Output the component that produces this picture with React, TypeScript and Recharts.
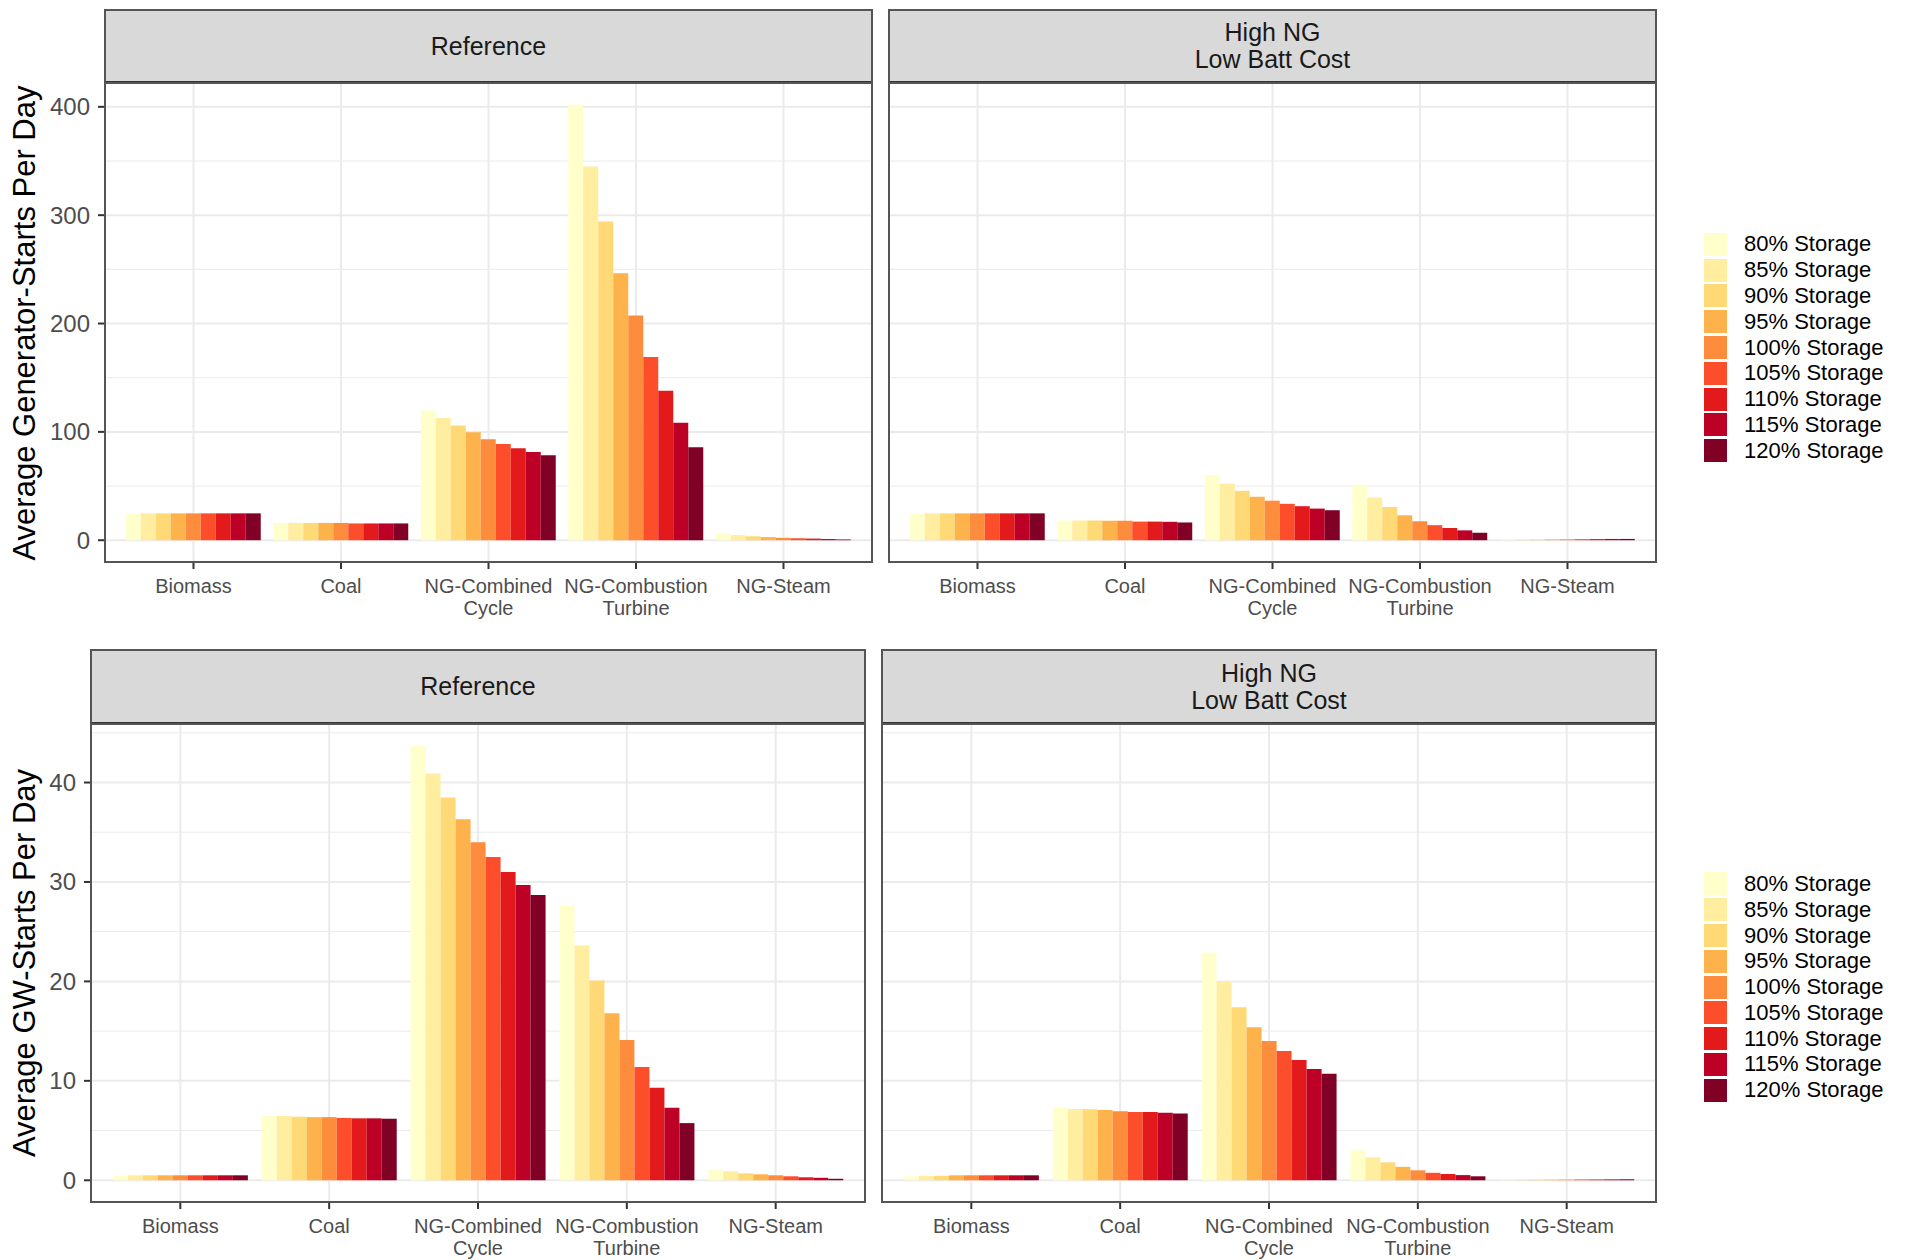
import React from 'react';
import { BarChart, Bar, XAxis, YAxis, CartesianGrid } from 'recharts';

const categories = ['Biomass', 'Coal', 'NG-Combined\nCycle', 'NG-Combustion\nTurbine', 'NG-Steam'];
const storageLevels = [
  '80% Storage', '85% Storage', '90% Storage', '95% Storage', '100% Storage',
  '105% Storage', '110% Storage', '115% Storage', '120% Storage',
];
// YlOrRd, 9 classes
const COLORS = ['#FFFFCC', '#FFEDA0', '#FED976', '#FEB24C', '#FD8D3C', '#FC4E2A', '#E31A1C', '#BD0026', '#800026'];

// rows follow `categories`, columns follow `storageLevels`
const genStartsReference = [
  [24.8, 24.8, 24.8, 24.8, 24.8, 24.8, 24.8, 24.8, 24.8],
  [16.0, 16.0, 16.0, 16.0, 16.0, 15.5, 15.5, 15.5, 15.5],
  [119.7, 112.8, 105.8, 99.6, 93.1, 88.7, 85.0, 81.4, 78.5],
  [401.9, 344.9, 294.2, 246.4, 207.3, 169.0, 138.0, 108.4, 85.8],
  [6.6, 4.7, 3.6, 2.9, 2.2, 1.8, 1.5, 1.1, 0.7],
];
const genStartsHighNG = [
  [24.8, 24.8, 24.8, 24.8, 24.8, 24.8, 24.8, 24.8, 24.8],
  [18.2, 18.2, 18.2, 18.0, 18.0, 17.2, 17.2, 17.0, 16.4],
  [60.2, 52.2, 45.6, 40.1, 36.5, 33.6, 31.4, 29.2, 27.7],
  [51.1, 39.4, 30.7, 23.0, 17.5, 13.9, 11.3, 9.1, 6.9],
  [0.6, 0.6, 0.7, 0.8, 0.9, 1.0, 1.1, 1.2, 1.2],
];
const gwStartsReference = [
  [0.45, 0.5, 0.5, 0.5, 0.5, 0.5, 0.5, 0.5, 0.5],
  [6.47, 6.47, 6.39, 6.35, 6.35, 6.27, 6.23, 6.23, 6.19],
  [43.7, 40.9, 38.5, 36.3, 34.0, 32.5, 31.0, 29.7, 28.7],
  [27.6, 23.6, 20.1, 16.8, 14.1, 11.4, 9.3, 7.3, 5.75],
  [1.1, 0.9, 0.7, 0.6, 0.5, 0.4, 0.3, 0.25, 0.15],
];
const gwStartsHighNG = [
  [0.4, 0.45, 0.45, 0.5, 0.5, 0.5, 0.5, 0.5, 0.5],
  [7.34, 7.18, 7.14, 7.06, 6.94, 6.87, 6.87, 6.79, 6.71],
  [22.9, 20.0, 17.4, 15.4, 14.0, 13.0, 12.1, 11.2, 10.7],
  [3.0, 2.3, 1.8, 1.35, 1.0, 0.75, 0.63, 0.52, 0.4],
  [0.05, 0.05, 0.06, 0.06, 0.07, 0.08, 0.08, 0.09, 0.1],
];

const genTicks = [0, 100, 200, 300, 400];
const genMinorTicks = [50, 150, 250, 350];
const gwTicks = [0, 10, 20, 30, 40];
const gwMinorTicks = [5, 15, 25, 35, 45];

const toRows = (vals: number[][]) =>
  categories.map((category, i) => {
    const row: any = { category };
    vals[i].forEach((v, j) => (row[`s${j}`] = v));
    return row;
  });

// ggplot-style 5% expansion on both ends
const expandDomain = (...panels: number[][][]) => {
  const max = Math.max(...panels.flat(2));
  return [-0.05 * max, 1.05 * max];
};

const CategoryTick = (props: any) => {
  const { x, y, payload } = props;
  const lines = String(payload.value).split('\n');
  return (
    <text x={x} y={y} textAnchor="middle" fill="#4D4D4D" fontSize={20}>
      {lines.map((l, i) => (
        <tspan key={i} x={x} dy={i === 0 ? 22 : 22}>
          {l}
        </tspan>
      ))}
    </text>
  );
};

interface PanelProps {
  left: number;
  right: number;
  top: number;
  bottom: number;
  stripTop: number;
  title: string[];
  values: number[][];
  domain: number[];
  ticks: number[];
  minorTicks: number[];
  showY: boolean;
}

const Panel = ({ left, right, top, bottom, stripTop, title, values, domain, ticks, minorTicks, showY }: PanelProps) => {
  const plotW = right - left;
  const plotH = bottom - top;
  const yw = showY ? 70 : 0;
  const unit = plotW / 5.2;
  const pad = unit * 0.1;
  const barSize = Math.round(unit * 0.1);
  const rows = toRows(values);
  return (
    <>
      <div
        style={{
          position: 'absolute',
          left: left - 1,
          top: stripTop - 1,
          width: plotW + 2,
          height: top - stripTop + 2,
          boxSizing: 'border-box',
          background: '#D9D9D9',
          border: '2px solid #555',
          borderBottom: '3px solid #333',
          display: 'flex',
          alignItems: 'center',
          justifyContent: 'center',
          flexDirection: 'column',
          fontSize: 25,
          lineHeight: '27px',
          color: '#1A1A1A',
        }}
      >
        {title.map((t) => (
          <div key={t}>{t}</div>
        ))}
      </div>
      <div style={{ position: 'absolute', left: left - yw, top }}>
        <BarChart
          width={plotW + yw}
          height={plotH + 60}
          data={rows}
          margin={{ top: 0, right: 0, bottom: 0, left: 0 }}
          barGap={0}
          barSize={barSize}
        >
          <CartesianGrid horizontalValues={minorTicks} vertical={false} stroke="#EBEBEB" strokeWidth={1} />
          <CartesianGrid horizontalValues={ticks} stroke="#EBEBEB" strokeWidth={2} />
          <XAxis
            dataKey="category"
            height={60}
            padding={{ left: pad, right: pad }}
            interval={0}
            axisLine={false}
            tickSize={7}
            tickMargin={2}
            tickLine={{ stroke: '#333', strokeWidth: 2 }}
            tick={<CategoryTick />}
          />
          <YAxis
            type="number"
            width={yw || 1}
            hide={!showY}
            domain={domain}
            ticks={ticks}
            allowDataOverflow
            axisLine={false}
            tickSize={7}
            tickMargin={8}
            tickLine={{ stroke: '#333', strokeWidth: 2 }}
            tick={{ fill: '#4D4D4D', fontSize: 24 }}
          />
          {storageLevels.map((s, i) => (
            <Bar key={s} dataKey={`s${i}`} name={s} fill={COLORS[i]} isAnimationActive={false} />
          ))}
        </BarChart>
      </div>
      <div
        style={{
          position: 'absolute',
          left: left - 1,
          top: top - 1,
          width: plotW + 2,
          height: plotH + 2,
          boxSizing: 'border-box',
          border: '2px solid #555',
          pointerEvents: 'none',
        }}
      />
    </>
  );
};

const StorageLegend = ({ top }: { top: number }) => (
  <div style={{ position: 'absolute', left: 1704, top }}>
    {storageLevels.map((s, i) => (
      <div key={s} style={{ display: 'flex', alignItems: 'center', height: 25.8 }}>
        <div style={{ width: 23, height: 23, background: COLORS[i] }} />
        <span style={{ marginLeft: 17, fontSize: 22, color: '#000', whiteSpace: 'nowrap' }}>{s}</span>
      </div>
    ))}
  </div>
);

const YTitle = ({ text, cy }: { text: string; cy: number }) => (
  <div
    style={{
      position: 'absolute',
      left: 25,
      top: cy,
      transform: 'translate(-50%, -50%) rotate(-90deg)',
      whiteSpace: 'nowrap',
      fontSize: 31,
      color: '#000',
    }}
  >
    {text}
  </div>
);

export default function App() {
  const genDomain = expandDomain(genStartsReference, genStartsHighNG);
  const gwDomain = expandDomain(gwStartsReference, gwStartsHighNG);
  return (
    <div
      style={{
        position: 'absolute',
        left: 0,
        top: 0,
        width: 1907,
        height: 1260,
        background: '#fff',
        fontFamily: '"Liberation Sans", Arial, sans-serif',
        overflow: 'hidden',
      }}
    >
      <YTitle text="Average Generator-Starts Per Day" cy={322.5} />
      <Panel left={105} right={872} top={83} bottom={562} stripTop={10} title={['Reference']}
        values={genStartsReference} domain={genDomain} ticks={genTicks} minorTicks={genMinorTicks} showY />
      <Panel left={889} right={1656} top={83} bottom={562} stripTop={10} title={['High NG', 'Low Batt Cost']}
        values={genStartsHighNG} domain={genDomain} ticks={genTicks} minorTicks={genMinorTicks} showY={false} />
      <StorageLegend top={231.5} />

      <YTitle text="Average GW-Starts Per Day" cy={963} />
      <Panel left={91} right={865} top={724} bottom={1202} stripTop={650} title={['Reference']}
        values={gwStartsReference} domain={gwDomain} ticks={gwTicks} minorTicks={gwMinorTicks} showY />
      <Panel left={882} right={1656} top={724} bottom={1202} stripTop={650} title={['High NG', 'Low Batt Cost']}
        values={gwStartsHighNG} domain={gwDomain} ticks={gwTicks} minorTicks={gwMinorTicks} showY={false} />
      <StorageLegend top={871} />
    </div>
  );
}
